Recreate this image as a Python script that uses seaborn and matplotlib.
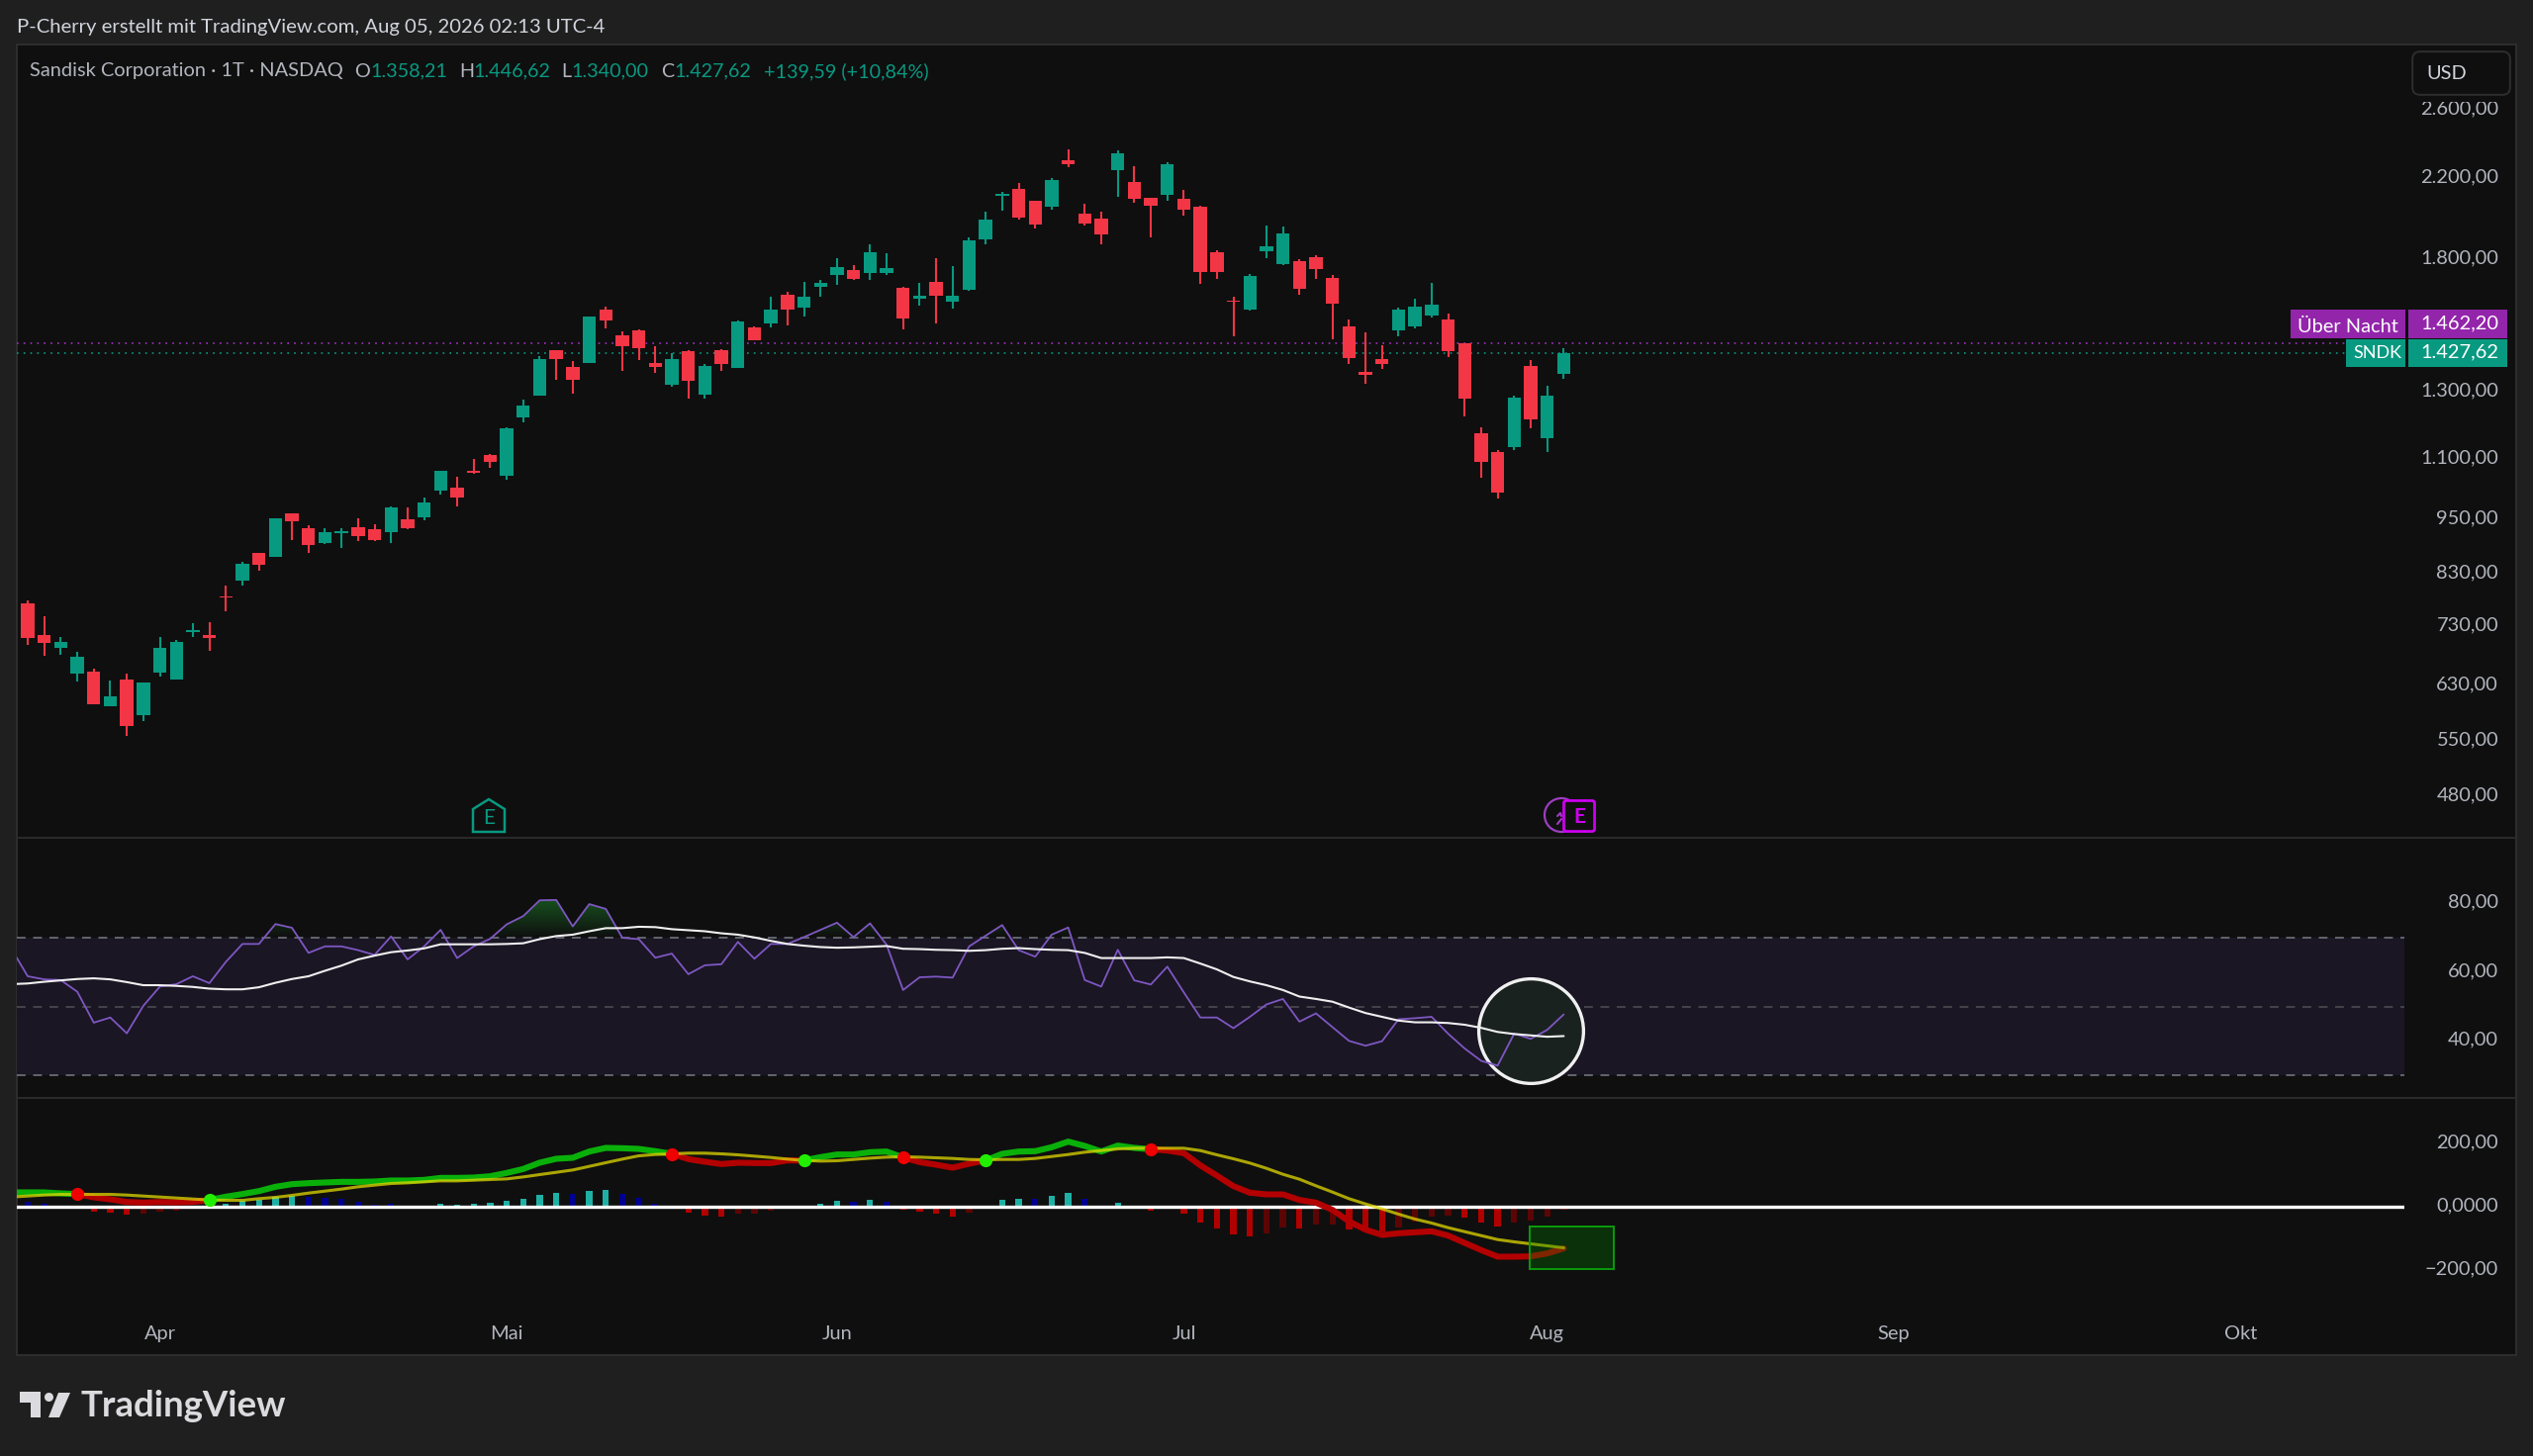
import numpy as np
import matplotlib
matplotlib.use("Agg")
import matplotlib.pyplot as plt
import seaborn as sns
from matplotlib.lines import Line2D
from matplotlib.patches import FancyBboxPatch, Rectangle, Polygon, Ellipse
from matplotlib.colors import LinearSegmentedColormap
from matplotlib.path import Path
from matplotlib.transforms import ScaledTranslation

# Daily candles, one per trading day
open_ = [772, 714, 692, 649, 652, 598, 640, 586, 650, 640, 718, 714, 785, 815, 873, 865, 963, 928, 894, 918, 931, 926, 920, 948, 954, 1018, 1027, 1070, 1113, 1056, 1219, 1286, 1438, 1380, 1394, 1589, 1494, 1510, 1395, 1320, 1434, 1289, 1438, 1377, 1522, 1537, 1649, 1597, 1681, 1730, 1753, 1739, 1740, 1679, 1633, 1704, 1623, 1670, 1889, 2107, 2140, 2078, 2048, 2300, 2012, 1991, 2241, 2177, 2094, 2111, 2089, 2047, 1830, 1626, 1590, 1836, 1780, 1793, 1809, 1718, 1527, 1364, 1409, 1511, 1526, 1567, 1553, 1463, 1174, 1120, 1133, 1384, 1159, 1358.21]
high = [777, 747, 710, 685, 657, 638, 649, 635, 710, 705, 735, 736, 805, 854, 873, 952, 963, 936, 928, 928, 950, 937, 980, 978, 1002, 1070, 1053, 1102, 1114, 1189, 1273, 1417, 1438, 1401, 1565, 1601, 1507, 1514, 1454, 1427, 1438, 1392, 1443, 1548, 1527, 1642, 1662, 1701, 1711, 1806, 1776, 1866, 1828, 1683, 1698, 1805, 1769, 1899, 2025, 2123, 2171, 2078, 2198, 2359, 2063, 2025, 2353, 2263, 2094, 2287, 2137, 2053, 1842, 1641, 1737, 1956, 1953, 1800, 1817, 1732, 1553, 1504, 1458, 1598, 1632, 1697, 1576, 1465, 1189, 1125, 1286, 1405, 1319, 1446.62]
low = [697, 678, 679, 637, 601, 598, 557, 577, 644, 640, 710, 687, 757, 805, 836, 865, 901, 874, 892, 884, 899, 900, 896, 925, 947, 1008, 980, 1061, 1076, 1046, 1206, 1286, 1337, 1294, 1394, 1517, 1367, 1404, 1362, 1316, 1278, 1278, 1367, 1377, 1476, 1522, 1530, 1563, 1643, 1691, 1711, 1712, 1730, 1516, 1605, 1538, 1593, 1667, 1870, 2027, 1985, 1940, 2035, 2259, 1954, 1866, 2099, 2067, 1901, 2077, 2006, 1694, 1715, 1488, 1588, 1805, 1776, 1648, 1715, 1480, 1390, 1326, 1375, 1490, 1519, 1561, 1414, 1222, 1052, 999, 1125, 1187, 1120, 1340.0]
close = [708, 700, 701, 677, 601, 614, 570, 634, 691, 701, 723, 708, 783, 850, 849, 952, 944, 891, 919, 922, 910, 902, 978, 929, 990, 1070, 1001, 1063, 1094, 1187, 1256, 1407, 1409, 1337, 1562, 1547, 1452, 1448, 1382, 1407, 1333, 1385, 1392, 1543, 1476, 1591, 1589, 1641, 1697, 1764, 1715, 1834, 1760, 1557, 1645, 1647, 1645, 1884, 1983, 2116, 1994, 1961, 2189, 2274, 1965, 1913, 2338, 2090, 2052, 2276, 2035, 1744, 1744, 1620, 1728, 1861, 1918, 1674, 1759, 1614, 1412, 1354, 1391, 1592, 1602, 1611, 1435, 1277, 1094, 1014, 1281, 1213, 1288, 1427.62]
overnight_price = 1462.20
last_price = 1427.62
price_ticks = [2600, 2200, 1800, 1300, 1100, 950, 830, 730, 630, 550, 480]
price_lab = ["2.600,00", "2.200,00", "1.800,00", "1.300,00", "1.100,00", "950,00", "830,00", "730,00", "630,00", "550,00", "480,00"]
month_pos = [8, 29, 49, 70, 92, 113, 134]
month_lab = ["Apr", "Mai", "Jun", "Jul", "Aug", "Sep", "Okt"]

# RSI and its average, starting one day before the first candle
rsi = [66.9, 58.8, 57.9, 57.7, 54.3, 45.3, 46.8, 42.2, 50.2, 55.8, 56.5, 58.8, 56.8, 63.0, 68.2, 68.2, 74.0, 72.9, 65.6, 67.5, 67.5, 66.4, 65.0, 70.4, 63.7, 67.5, 72.3, 64.1, 67.5, 69.7, 73.9, 76.3, 80.9, 81.0, 73.3, 79.8, 78.4, 70.0, 69.6, 64.2, 65.4, 59.4, 62.0, 62.3, 68.8, 63.9, 68.2, 68.2,
       70.2, 72.3, 74.4, 70.2, 74.2, 68.0, 54.8, 58.5, 58.7, 58.4, 67.5, 70.6, 73.7, 66.4, 64.5, 70.9, 73.0, 57.7, 55.8, 66.5, 57.6, 56.4, 61.6, 54.1, 46.8, 46.8, 43.7, 47.0, 50.6, 52.2, 45.6, 48.0, 44.0, 40.0, 38.6, 39.9, 46.3, 46.6, 47.0, 42.1, 37.8, 34.2, 32.8, 42.1, 40.6, 43.2, 47.7]
rsi_ma = [56.5, 56.7, 57.2, 57.6, 58.0, 58.2, 57.9, 57.1, 56.2, 56.2, 56.0, 55.7, 55.2, 55.0, 55.0, 55.6, 56.9, 58.0, 58.8, 60.4, 61.9, 63.7, 64.8, 65.8, 66.3, 66.9, 68.1, 68.1, 68.1, 68.1, 68.2, 68.4, 69.6, 70.5, 70.9, 71.9, 72.8, 72.8, 73.2, 73.1, 72.5, 72.2, 71.9, 71.3, 70.9, 70.1, 69.1, 68.2,
          67.7, 67.3, 67.1, 67.2, 67.4, 67.6, 66.8, 66.7, 66.5, 66.4, 66.2, 66.4, 66.8, 67.0, 66.7, 66.5, 66.4, 65.6, 64.1, 64.1, 64.1, 64.1, 64.3, 64.1, 62.5, 60.8, 58.6, 57.3, 56.2, 54.8, 52.9, 52.2, 51.4, 49.7, 48.1, 47.0, 45.9, 45.4, 45.4, 45.2, 44.7, 43.8, 42.6, 42.0, 41.6, 41.2, 41.4]

# MACD pane, lines start one day before the first candle as well
macd = [44.5, 44.5, 44.5, 41.4, 39.3, 29.0, 22.8, 14.5, 12.4, 14.5, 13.5, 14.5, 20.7, 31.0, 39.3, 48.6, 62.1, 70.4, 73.5, 75.6, 77.6, 77.6, 78.7, 81.8, 81.8, 83.8, 90.0, 90.0, 91.1, 95.2, 105.6, 118.0, 137.7, 150.1, 153.2, 172.8, 184.2, 183.2, 181.1, 173.9, 165.6, 149.0, 140.8, 133.5, 137.7, 136.6, 136.6, 144.9, 144.9,
        155.3, 163.5, 163.5, 170.8, 172.8, 154.2, 139.7, 131.4, 122.1, 134.6, 144.9, 165.6, 172.8, 173.9, 186.3, 203.9, 190.4, 172.8, 191.5, 184.2, 180.1, 176.0, 167.7, 129.4, 97.3, 64.2, 43.5, 38.3, 38.3, 20.7, 12.4, -10.4, -46.6, -72.5, -89.0, -83.8, -80.7, -77.6, -91.1, -113.9, -136.6, -157.3, -157.3, -156.3, -147.0, -131.4]
signal = [30.0, 33.1, 36.2, 38.3, 38.3, 38.3, 38.3, 36.2, 33.1, 30.0, 26.9, 23.8, 20.7, 19.7, 19.7, 24.8, 29.0, 35.2, 42.4, 48.6, 54.9, 62.1, 67.3, 72.4, 74.5, 77.6, 80.7, 80.7, 82.8, 84.9, 86.9, 93.1, 100.4, 107.6, 114.9, 126.3, 137.7, 149.0, 159.4, 163.5, 165.6, 167.7, 167.7, 165.6, 162.5, 158.4, 154.2, 149.0, 144.9, 142.8, 143.9, 148.0, 152.1, 155.2, 156.3, 155.2, 153.2, 151.1, 148.0, 147.0, 148.0, 148.0, 151.1, 157.3, 163.5, 170.8, 175.9, 181.1, 183.2, 183.2, 183.2, 183.2, 175.9, 162.5, 150.1, 136.6, 120.1, 101.4, 85.9, 65.2, 45.5, 24.8, 8.3, -7.2, -23.8, -39.3, -51.7, -66.2, -78.7, -91.1, -103.5, -110.7, -117.0, -123.2, -129.4]
hist = [14.5, 8.3, 0.0, 0.0, -14.5, -18.6, -24.8, -22.8, -15.5, -11.4, 0.0, 0.0, 9.3, 17.6, 21.7, 31.0, 33.1, 32.1, 27.9, 22.8, 14.5, 7.2, 8.3, 0.0, 0.0, 9.3, 6.2, 9.3, 12.4, 17.6, 24.8, 38.3, 43.5, 40.4, 49.7, 51.7, 39.3, 27.9, 8.3, 0.0, -18.6, -26.9, -32.1, -22.8, -20.7, -13.5, 0.0, 0.0, 10.3, 17.6, 14.5, 20.7, 14.5, -8.3, -15.5, -22.8, -32.1, -17.6, 0.0, 20.7, 22.8, 23.8, 33.1, 43.5, 22.8, 0.0, 12.4, 0.0, -11.4, 0.0, -21.7, -49.7, -68.3, -89.0, -95.2, -82.8, -65.2, -68.3, -56.9, -56.9, -71.4, -77.6, -77.6, -65.2, -46.6, -31.0, -29.0, -34.2, -49.7, -63.1, -51.7, -43.5, -31.0, -8.3]
hist_kind = list("bbxxrrrdddxxtttttbbbbbbxxttttttttbttbbbxrrrdddxxttbtbrrrrdxttbttbxtxrxrrrrrddrddrrrddddrrrdddd")
macd_runs = [(-1, 3, "up"), (3, 11, "down"), (11, 39, "up"), (39, 47, "down"), (47, 53, "up"), (53, 58, "down"), (58, 68, "up"), (68, 93, "down")]
cross_down = [3, 39, 53, 68]
cross_up = [11, 47, 58]

W, H = 2560, 1472
GREEN, RED = "#089981", "#f23645"
OUTER, INNER = "#1f1f1f", "#0f0f0f"
FS = 14.4
sns.set_theme(style="dark", rc={"figure.facecolor": OUTER, "axes.facecolor": INNER, "axes.grid": False})
plt.rcParams["font.family"] = ["Lato", "DejaVu Sans"]
fig = plt.figure(figsize=(W / 100, H / 100), dpi=100)


def panel(l, t, r, b):
    return fig.add_axes([l / W, 1 - b / H, (r - l) / W, (b - t) / H])


def fx(px):
    return px / W


def fy(px):
    return 1 - px / H


def label(px, py, s, color="#b2b5be", size=FS, ha="left", **kw):
    fig.text(fx(px), fy(py), s, color=color, fontsize=size, ha=ha, va="center", zorder=20, **kw)


def add_poly(pts, **kw):
    fig.add_artist(Polygon([(fx(a), fy(b)) for a, b in pts], transform=fig.transFigure, zorder=16, **kw))


back = panel(17, 45, 2543, 1370)
back.set_xticks([])
back.set_yticks([])
back.set_facecolor(INNER)
for sp in back.spines.values():
    sp.set_color("#2e2e2e")
    sp.set_linewidth(1.4)

ax_price = panel(17, 46, 2430, 847)
ax_rsi = panel(17, 848, 2430, 1110)
ax_macd = panel(17, 1111, 2430, 1310)
xlim = (-0.66, 143.9)
for ax in (ax_price, ax_rsi, ax_macd):
    ax.patch.set_alpha(0)
    for sp in ax.spines.values():
        sp.set_visible(False)
    ax.yaxis.tick_right()
    ax.set_xlim(*xlim)
    ax.set_xticks([])

# Candles
days = np.arange(len(close))
o, h, l, c = map(np.array, (open_, high, low, close))
cols = [GREEN if b >= a else RED for a, b in zip(o, c)]
ax_price.set_yscale("log")
ax_price.vlines(days, l, h, colors=cols, linewidth=1.5, zorder=3)
ax_price.bar(days, np.abs(c - o), bottom=np.minimum(o, c), width=0.8, color=cols, linewidth=0, zorder=3)
ax_price.axhline(overnight_price, color="#a030c0", linewidth=1.2, linestyle=(0, (1, 3.1)), zorder=2)
ax_price.axhline(last_price, color=GREEN, linewidth=1.2, linestyle=(0, (1, 3.1)), zorder=2)
ax_price.set_ylim(433, 3048)
ax_price.minorticks_off()
ax_price.set_yticks(price_ticks, price_lab)

# RSI
x_lines = np.arange(-1, len(close))
ax_rsi.axhspan(30, 70, color="#1a1624", linewidth=0, zorder=0)
for v, col in [(70, "#787b86"), (50, "#505055"), (30, "#787b86")]:
    ax_rsi.axhline(v, color=col, linewidth=1.1, linestyle=(0, (5.8, 5.0)), zorder=1)
rsi_arr = np.array(rsi)
fill = ax_rsi.fill_between(x_lines, 70, rsi_arr, where=rsi_arr > 70, interpolate=True, color="none")
clip = Path.make_compound_path(*fill.get_paths())
fade = LinearSegmentedColormap.from_list("fade", [(0.09, 0.32, 0.12, 0.0), (0.09, 0.32, 0.12, 1.0)])
im = ax_rsi.imshow(np.linspace(1, 0, 64)[:, None], extent=(-1, 94, 70, 81), aspect="auto", cmap=fade, zorder=1)
im.set_clip_path(clip, transform=ax_rsi.transData)
sns.scatterplot(x=[91.0], y=[43.0], s=5800, color="#1a2220", edgecolor="#f0f0f0", linewidth=2.4, ax=ax_rsi, zorder=2)
sns.lineplot(x=x_lines, y=rsi, color="#7e57c2", linewidth=1.3, ax=ax_rsi, zorder=4)
sns.lineplot(x=x_lines, y=rsi_ma, color="#efefef", linewidth=1.5, ax=ax_rsi, zorder=5)
ax_rsi.set_xlim(*xlim)
ax_rsi.set_ylim(23.4, 98.8)
ax_rsi.set_yticks([80, 60, 40], ["80,00", "60,00", "40,00"])

# MACD
hist_cols = {"t": "#1fb0a5", "b": "#000090", "r": "#b00000", "d": "#5c0505", "x": "none"}
ax_macd.bar(days, hist, width=0.38, color=[hist_cols[k] for k in hist_kind], linewidth=0, zorder=2)
ax_macd.axhline(0, color="#ffffff", linewidth=2.4, zorder=3)
m_arr = np.array(macd)
run_cols = {"up": "#0ab00a", "down": "#b30000"}
for a, b, kind in macd_runs:
    sns.lineplot(x=x_lines[a + 1:b + 2], y=m_arr[a + 1:b + 2], color=run_cols[kind], linewidth=4.4, ax=ax_macd, zorder=4)
sns.lineplot(x=x_lines, y=signal, color="#e0d800", alpha=0.75, linewidth=2.2, ax=ax_macd, zorder=5)
for idx, col in [(cross_down, "#f00000"), (cross_up, "#22ee00")]:
    sns.scatterplot(x=idx, y=m_arr[np.array(idx) + 1], s=90, color=col, linewidth=0, ax=ax_macd, zorder=6)
ax_macd.add_patch(Rectangle((90.95, -196), 5.1, 134, facecolor=(0.0, 0.5, 0.0, 0.3), edgecolor="#0a9a0a", linewidth=1.4, zorder=7))
ax_macd.set_xlim(*xlim)
ax_macd.set_ylim(-280, 338)
ax_macd.set_yticks([200, 0, -200], ["200,00", "0,0000", "\u2212200,00"])
ax_macd.set_xticks(month_pos, month_lab)
ax_macd.tick_params(axis="x", length=0, pad=21.5, labelcolor="#b2b5be", labelsize=FS)

lift = ScaledTranslation(0, 1.8 / 72, fig.dpi_scale_trans)
for ax in (ax_price, ax_rsi, ax_macd):
    ax.tick_params(axis="y", length=0, pad=68.4, labelcolor="#b2b5be", labelsize=FS)
    ax.set_xlabel("")
    ax.set_ylabel("")
    for t in ax.get_yticklabels():
        t.set_ha("right")
        t.set_transform(t.get_transform() + lift)

# Pane dividers
for py in (847, 1110):
    fig.add_artist(Rectangle((fx(17), fy(py + 1)), 2526 / W, 2 / H, facecolor="#2a2a2a", linewidth=0, transform=fig.transFigure, zorder=14))

# Header texts
label(17, 27, "P-Cherry erstellt mit TradingView.com, Aug 05, 2026 02:13 UTC-4", color="#d1d4dc", size=14.6)
label(30, 72, "Sandisk Corporation \u00b7 1T \u00b7 NASDAQ")
for px, s, col in [(358, "O", None), (374, "1.358,21", GREEN), (464, "H", None), (478, "1.446,62", GREEN), (567, "L", None), (577, "1.340,00", GREEN), (668, "C", None), (681, "1.427,62", GREEN), (772, "+139,59 (+10,84%)", GREEN)]:
    label(px, 72, s, color=col or "#b2b5be", size=14.2)

# Currency button and price tags
fig.add_artist(Rectangle((fx(2436), fy(103)), 104 / W, 53 / H, facecolor=INNER, linewidth=0, transform=fig.transFigure, zorder=14))
fig.add_artist(FancyBboxPatch((fx(2442), fy(92)), 91 / W, 36 / H, boxstyle="round,pad=0.0015,rounding_size=0.003", mutation_aspect=W / H, facecolor=INNER, edgecolor="#2e2e2e", linewidth=1.4, transform=fig.transFigure, zorder=15))
label(2452, 74, "USD", color="#d1d4dc")
for x0, x1, y0, y1, col in [(2315, 2431, 313, 342, "#9325ab"), (2434, 2534, 313, 342, "#9325ab"), (2371, 2431, 343, 371, GREEN), (2434, 2534, 343, 371, GREEN)]:
    fig.add_artist(Rectangle((fx(x0), fy(y1)), (x1 - x0) / W, (y1 - y0) / H, facecolor=col, linewidth=0, transform=fig.transFigure, zorder=16))
label(2322, 330, "\u00dcber Nacht", color="#ffffff")
label(2525, 327, "1.462,20", color="#ffffff", ha="right")
label(2378, 357, "SNDK", color="#ffffff", size=13)
label(2525, 356, "1.427,62", color="#ffffff", ha="right")

# Earnings markers
add_poly([(494, 808), (510, 818), (510, 841), (478, 841), (478, 818)], closed=True, facecolor=INNER, edgecolor=GREEN, linewidth=1.8)
label(494, 827, "E", color=GREEN, size=15, ha="center")
fig.add_artist(Ellipse((fx(1578), fy(824)), 34 / W, 34 / H, transform=fig.transFigure, facecolor="none", edgecolor="#9c3fc0", linewidth=1.6, zorder=15))
for xs, ys in [((1574, 1577, 1578), (825, 822, 825)), ((1574, 1578), (833, 828))]:
    fig.add_artist(Line2D([fx(a) for a in xs], [fy(b) for b in ys], color="#9c3fc0", linewidth=1.5, transform=fig.transFigure, zorder=15))
fig.add_artist(FancyBboxPatch((fx(1582), fy(839)), 28 / W, 28 / H, boxstyle="round,pad=0.0006,rounding_size=0.001", mutation_aspect=W / H, facecolor=INNER, edgecolor="#cc00ee", linewidth=2.0, transform=fig.transFigure, zorder=16))
label(1596, 826, "E", color="#cc00ee", size=15, ha="center", fontweight="bold")

# Logo
logo_grey = "#dbdbdf"
add_poly([(20, 1407), (41, 1407), (41, 1433), (31, 1433), (31, 1418), (20, 1418)], closed=True, facecolor=logo_grey, linewidth=0)
add_poly([(59, 1408), (71, 1408), (60, 1433), (49, 1433)], closed=True, facecolor=logo_grey, linewidth=0)
fig.add_artist(Ellipse((fx(49.5), fy(1412.5)), 9 / W, 9 / H, transform=fig.transFigure, facecolor=logo_grey, linewidth=0, zorder=16))
label(82, 1421, "TradingView", color=logo_grey, size=26.4, fontweight="bold")

fig.savefig("out.png", dpi=100, facecolor=OUTER)
